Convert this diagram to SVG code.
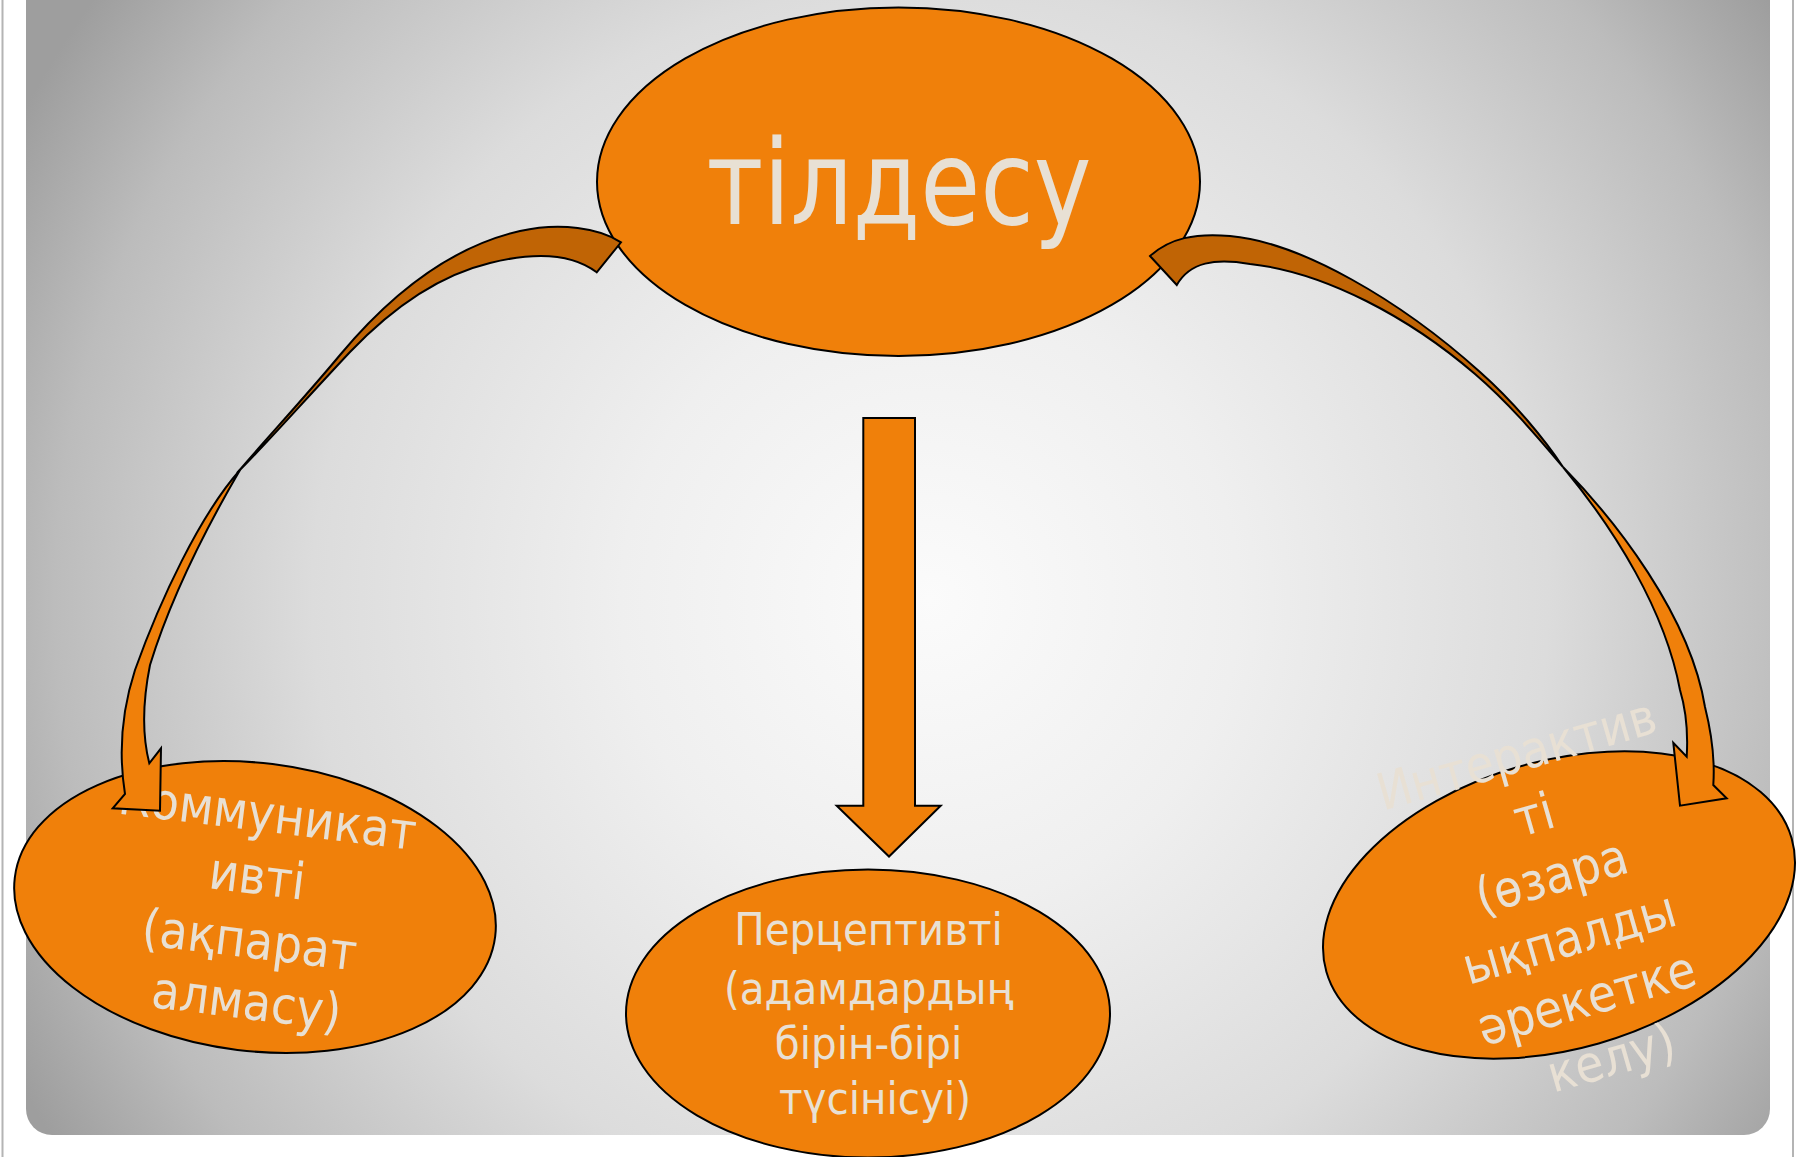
<svg xmlns="http://www.w3.org/2000/svg" width="1801" height="1157" viewBox="0 0 1801 1157">
<defs>
<radialGradient id="bg" gradientUnits="userSpaceOnUse" cx="930" cy="600" r="1030">
<stop offset="0" stop-color="#fbfbfb"/>
<stop offset="0.3" stop-color="#efefef"/>
<stop offset="0.6" stop-color="#dcdcdc"/>
<stop offset="0.85" stop-color="#bcbcbc"/>
<stop offset="1" stop-color="#9e9e9e"/>
</radialGradient>
</defs>
<style>
.node{fill:#f0800a;stroke:#000;stroke-width:2}
.lbl{font-family:"DejaVu Sans",Verdana,sans-serif;fill:#e8e0d4;text-anchor:middle}
.arrow{fill:#f0800a;stroke:#000;stroke-width:2;stroke-linejoin:miter}
.back{fill:#c06405;stroke:#000;stroke-width:2;stroke-linejoin:miter}
</style>
<rect x="0" y="0" width="1801" height="1157" fill="#ffffff"/>
<rect x="26" y="-40" width="1744" height="1175" rx="26" ry="26" fill="url(#bg)"/>
<line x1="2.5" y1="0" x2="2.5" y2="1157" stroke="#b4b4b4" stroke-width="2"/>
<line x1="1793" y1="0" x2="1793" y2="1157" stroke="#b4b4b4" stroke-width="2"/>

<g id="node-tildesu">
<ellipse class="node" cx="898.5" cy="181.7" rx="301.5" ry="174.3"/>
<text class="lbl" x="899" y="224" font-size="117" textLength="385" lengthAdjust="spacingAndGlyphs">тілдесу</text>
</g>

<g id="node-kommunikativti" transform="rotate(7 255 907)">
<ellipse class="node" cx="255" cy="907" rx="242" ry="144"/>
<text class="lbl" font-size="51" transform="matrix(0.9 0 0 1 26 0)">
<tspan x="264" y="831">Коммуникат</tspan>
<tspan x="261" y="894">ивті</tspan>
<tspan x="261" y="958">(ақпарат</tspan>
<tspan x="258" y="1019">алмасу)</tspan>
</text>
</g>

<g id="node-pertseptivti">
<ellipse class="node" cx="868" cy="1013.5" rx="242" ry="144"/>
<text class="lbl" font-size="45" transform="matrix(0.9 0 0 1 87.5 0)">
<tspan x="875" y="945">Перцептивті</tspan>
<tspan x="875" y="1004">(адамдардың</tspan>
<tspan x="875" y="1059">бірін-бірі</tspan>
<tspan x="875" y="1114">түсінісуі)</tspan>
</text>
</g>

<g id="node-interaktivti" transform="rotate(-16 1559 905)">
<ellipse class="node" cx="1559" cy="905" rx="242" ry="144"/>
<text class="lbl" font-size="51" transform="matrix(0.9 0 0 1 156.7 0)">
<tspan x="1567" y="766">Интерактив</tspan>
<tspan x="1567" y="829">ті</tspan>
<tspan x="1567" y="893">(өзара</tspan>
<tspan x="1567" y="957">ықпалды</tspan>
<tspan x="1567" y="1020">әрекетке</tspan>
<tspan x="1567" y="1084">келу)</tspan>
</text>
</g>

<g id="connectors">
<g id="arrow-left">
<path class="back" d="M621 242.3 C600 228 560 222 520 231 C450 247 390 295 340 355 C300 403 265 440 237 473 C268 442 303 402 350 352 C395 305 440 275 490 263 C530 253 570 252 596.7 272.3 Z"/>
<path class="arrow" d="M240 470 C200 515 160 600 135 670 C122 710 118 750 125 794 L112.7 808.3 L160 810.7 L161 748.3 L149.3 763.3 C142 735 143 700 150 665 C170 600 205 530 240 470 Z"/>
</g>
<g id="arrow-right">
<path class="back" d="M1150 256 C1170 238 1195 233 1230 236 C1300 242 1400 300 1480 372 C1515 403 1545 440 1563 467 C1540 440 1510 404 1475 374 C1410 318 1325 272 1250 264 C1215 258 1190 262 1176.8 285 Z"/>
<path class="arrow" d="M1563 467 C1615 520 1690 615 1705 707 C1712 735 1715 760 1713.3 785 L1726.7 798.3 L1680 805.7 L1673.3 742.7 L1686.7 756.7 C1688 735 1686 710 1680 690 C1665 610 1615 530 1563 467 Z"/>
</g>
<path id="arrow-down" class="arrow" d="M863.3 418 L915 418 L915 805.8 L940.7 805.8 L889 856.5 L836.7 805.8 L863.3 805.8 Z"/>
</g>
</svg>
